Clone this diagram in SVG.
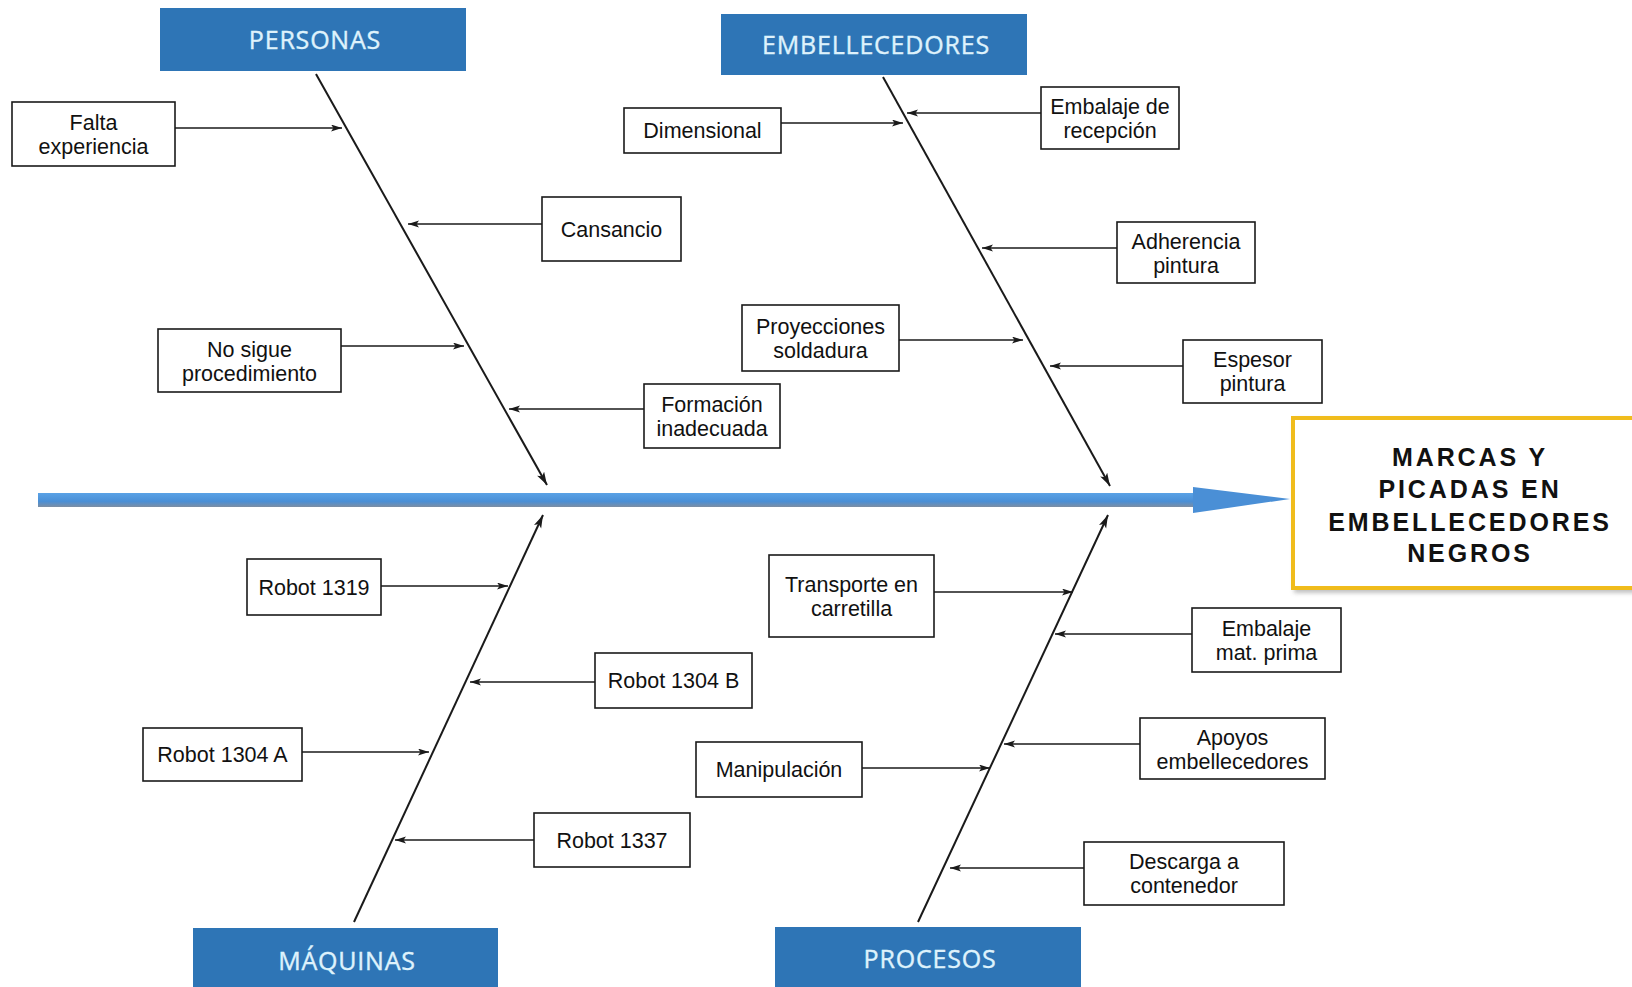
<svg xmlns="http://www.w3.org/2000/svg" width="1632" height="987" viewBox="0 0 1632 987">
<defs>
<style>
.cat rect{fill:#2e75b6}
.cat text{font-family:"Open Sans",Lato,sans-serif;font-size:25px;fill:#def2fc;text-anchor:middle;letter-spacing:0.8px;stroke:#def2fc;stroke-width:0.4}
.box rect{fill:#fff;stroke:#1a1a1a;stroke-width:1.6}
.box text{font-family:"Liberation Sans",Arial,sans-serif;font-size:21.5px;fill:#111;text-anchor:middle}
.cause{stroke:#1a1a1a;stroke-width:1.6;fill:none;marker-end:url(#ah)}
.bone{stroke:#1a1a1a;stroke-width:2;fill:none;marker-end:url(#ahb)}
.effect text{font-family:"Liberation Sans",Arial,sans-serif;font-size:25px;font-weight:bold;fill:#111;text-anchor:middle;letter-spacing:2.9px}
</style>
<marker id="ah" markerUnits="userSpaceOnUse" markerWidth="12" markerHeight="8" refX="11" refY="3.5" orient="auto">
<path d="M0,0 L11,3.5 L0,7 L2.5,3.5 z" fill="#1a1a1a"/>
</marker>
<marker id="ahb" markerUnits="userSpaceOnUse" markerWidth="14" markerHeight="10" refX="13" refY="4" orient="auto">
<path d="M0,0 L13,4 L0,8 L3,4 z" fill="#1a1a1a"/>
</marker>
<linearGradient id="shaft" x1="0" y1="0" x2="0" y2="1">
<stop offset="0" stop-color="#5aa2e6"/>
<stop offset="0.6" stop-color="#4a8fd6"/>
<stop offset="1" stop-color="#7d8ea3"/>
</linearGradient>
<filter id="sh" x="-10%" y="-10%" width="130%" height="130%">
<feDropShadow dx="3" dy="3" stdDeviation="2" flood-color="#777" flood-opacity="0.45"/>
</filter>
</defs>
<rect width="1632" height="987" fill="#fff"/>

<g id="spine">
<rect x="38" y="493" width="1157" height="14" fill="url(#shaft)"/>
<path d="M1193,487 L1290,499 L1193,513 Z" fill="#4a8fd6"/>
</g>

<g id="connectors">
<line class="bone" x1="316" y1="74" x2="547" y2="485"/>
<line class="bone" x1="883" y1="77" x2="1110" y2="486"/>
<line class="bone" x1="354" y1="922" x2="543" y2="515"/>
<line class="bone" x1="918" y1="922" x2="1108" y2="515"/>
<line class="cause" x1="175" y1="128" x2="342" y2="128"/>
<line class="cause" x1="542" y1="224" x2="408" y2="224"/>
<line class="cause" x1="341" y1="346" x2="464" y2="346"/>
<line class="cause" x1="644" y1="409" x2="509" y2="409"/>
<line class="cause" x1="781" y1="123" x2="903" y2="123"/>
<line class="cause" x1="1041" y1="113" x2="907" y2="113"/>
<line class="cause" x1="1117" y1="248" x2="982" y2="248"/>
<line class="cause" x1="899" y1="340" x2="1023" y2="340"/>
<line class="cause" x1="1183" y1="366" x2="1050" y2="366"/>
<line class="cause" x1="381" y1="586" x2="508" y2="586"/>
<line class="cause" x1="595" y1="682" x2="470" y2="682"/>
<line class="cause" x1="302" y1="752" x2="429" y2="752"/>
<line class="cause" x1="534" y1="840" x2="395" y2="840"/>
<line class="cause" x1="934" y1="592" x2="1073" y2="592"/>
<line class="cause" x1="1192" y1="634" x2="1055" y2="634"/>
<line class="cause" x1="1140" y1="744" x2="1004" y2="744"/>
<line class="cause" x1="862" y1="768" x2="990" y2="768"/>
<line class="cause" x1="1084" y1="868" x2="950" y2="868"/>
</g>

<g id="personas" class="cat"><rect x="160" y="8" width="306" height="63"/><text x="315" y="49">PERSONAS</text></g>
<g id="embellecedores" class="cat"><rect x="721" y="14" width="306" height="61"/><text x="876" y="54">EMBELLECEDORES</text></g>
<g id="maquinas" class="cat"><rect x="193" y="928" width="305" height="70"/><text x="347" y="970">MÁQUINAS</text></g>
<g id="procesos" class="cat"><rect x="775" y="927" width="306" height="70"/><text x="930" y="968">PROCESOS</text></g>

<g id="effect" class="effect">
<rect x="1293" y="418" width="350" height="170" fill="#fff" stroke="#f0bc1e" stroke-width="4" filter="url(#sh)"/>
<text x="1470" y="466">MARCAS Y</text>
<text x="1470" y="498">PICADAS EN</text>
<text x="1470" y="531">EMBELLECEDORES</text>
<text x="1470" y="562">NEGROS</text>
</g>

<g id="c-falta" class="box"><rect x="12" y="102" width="163" height="64"/><text x="93.5" y="130">Falta</text><text x="93.5" y="154">experiencia</text></g>
<g id="c-cansancio" class="box"><rect x="542" y="197" width="139" height="64"/><text x="611.5" y="237">Cansancio</text></g>
<g id="c-nosigue" class="box"><rect x="158" y="329" width="183" height="63"/><text x="249.5" y="357">No sigue</text><text x="249.5" y="381">procedimiento</text></g>
<g id="c-formacion" class="box"><rect x="644" y="384" width="136" height="64"/><text x="712" y="412">Formación</text><text x="712" y="436">inadecuada</text></g>
<g id="c-dimensional" class="box"><rect x="624" y="108" width="157" height="45"/><text x="702.5" y="138">Dimensional</text></g>
<g id="c-embalajerec" class="box"><rect x="1041" y="87" width="138" height="62"/><text x="1110" y="114">Embalaje de</text><text x="1110" y="138">recepción</text></g>
<g id="c-adherencia" class="box"><rect x="1117" y="222" width="138" height="61"/><text x="1186" y="249">Adherencia</text><text x="1186" y="273">pintura</text></g>
<g id="c-proyecciones" class="box"><rect x="742" y="305" width="157" height="66"/><text x="820.5" y="334">Proyecciones</text><text x="820.5" y="358">soldadura</text></g>
<g id="c-espesor" class="box"><rect x="1183" y="340" width="139" height="63"/><text x="1252.5" y="367">Espesor</text><text x="1252.5" y="391">pintura</text></g>
<g id="c-r1319" class="box"><rect x="247" y="559" width="134" height="56"/><text x="314" y="595">Robot 1319</text></g>
<g id="c-r1304b" class="box"><rect x="595" y="653" width="157" height="55"/><text x="673.5" y="688">Robot 1304 B</text></g>
<g id="c-r1304a" class="box"><rect x="143" y="728" width="159" height="53"/><text x="222.5" y="762">Robot 1304 A</text></g>
<g id="c-r1337" class="box"><rect x="534" y="813" width="156" height="54"/><text x="612" y="848">Robot 1337</text></g>
<g id="c-transporte" class="box"><rect x="769" y="555" width="165" height="82"/><text x="851.5" y="592">Transporte en</text><text x="851.5" y="616">carretilla</text></g>
<g id="c-embalajemat" class="box"><rect x="1192" y="608" width="149" height="64"/><text x="1266.5" y="636">Embalaje</text><text x="1266.5" y="660">mat. prima</text></g>
<g id="c-apoyos" class="box"><rect x="1140" y="718" width="185" height="61"/><text x="1232.5" y="745">Apoyos</text><text x="1232.5" y="769">embellecedores</text></g>
<g id="c-manipulacion" class="box"><rect x="696" y="742" width="166" height="55"/><text x="779" y="777">Manipulación</text></g>
<g id="c-descarga" class="box"><rect x="1084" y="842" width="200" height="63"/><text x="1184" y="869">Descarga a</text><text x="1184" y="893">contenedor</text></g>
</svg>
